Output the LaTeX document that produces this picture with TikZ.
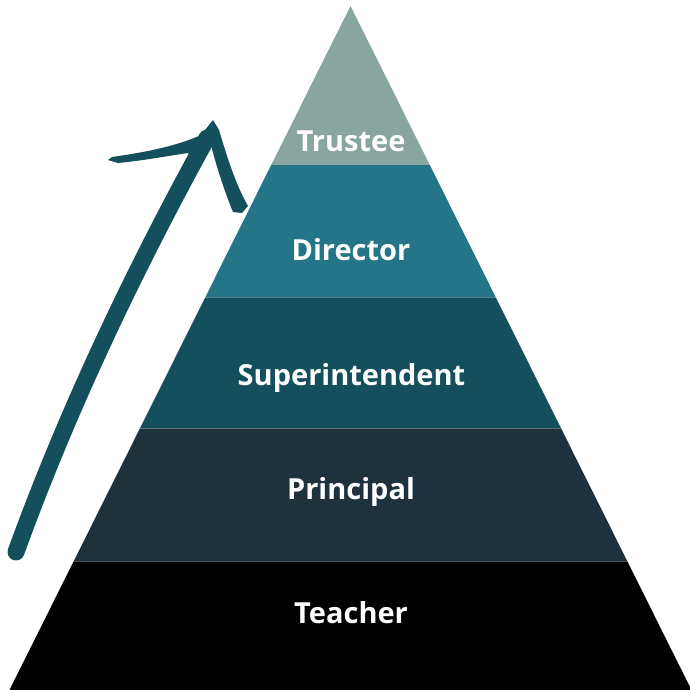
\documentclass[tikz,border=0pt]{standalone}
\usepackage{fontspec}
\setmainfont{Open Sans}
\definecolor{ctrustee}{HTML}{88A59F}
\definecolor{cdirector}{HTML}{237587}
\definecolor{csuper}{HTML}{134F5C}
\definecolor{cprincipal}{HTML}{1D323D}
\definecolor{cteacher}{HTML}{000000}
\definecolor{carrow}{HTML}{134F5C}
\begin{document}
\begin{tikzpicture}[x=1pt,y=-1pt,
  lbl/.style={text=white,font=\fontsize{29}{34}\selectfont\bfseries,anchor=base,inner sep=0pt},
  sep/.style={draw=white,draw opacity=0.3,line width=1pt},
  brush/.style={fill=carrow,draw=none}]
\useasboundingbox (0,0) rectangle (690,690);
% pyramid corner coordinates
\coordinate (apex) at (350.5,6);
\coordinate (l1) at (271.2,165); \coordinate (r1) at (429.8,165);
\coordinate (l2) at (205.4,297); \coordinate (r2) at (495.6,297);
\coordinate (l3) at (140.1,428); \coordinate (r3) at (560.9,428);
\coordinate (l4) at (73.8,561);  \coordinate (r4) at (627.2,561);
\coordinate (l5) at (9.5,690);   \coordinate (r5) at (691.5,690);
% layers
\fill[ctrustee]   (apex) -- (r1) -- (l1) -- cycle;
\fill[cdirector]  (l1) -- (r1) -- (r2) -- (l2) -- cycle;
\fill[csuper]     (l2) -- (r2) -- (r3) -- (l3) -- cycle;
\fill[cprincipal] (l3) -- (r3) -- (r4) -- (l4) -- cycle;
\fill[cteacher]   (l4) -- (r4) -- (r5) -- (l5) -- cycle;
\draw[sep] (l2) -- (r2);
\draw[sep] (l3) -- (r3);
\draw[sep] (l4) -- (r4);
% labels
\node[lbl] (trustee) at (351,151) {Trustee};
\node[lbl] (director) at (351,260) {Director};
\node[lbl] (superintendent) at (351.5,385) {Superintendent};
\node[lbl] (principal) at (351,499) {Principal};
\node[lbl] (teacher) at (351,623) {Teacher};
% hand-drawn arrow
\coordinate (tail) at (16,552);
\coordinate (neck) at (207,138);
\draw[carrow,line width=17pt,line cap=round] (tail) .. controls (66,414) and (132,274) .. (neck);
\fill[brush] (213,120) -- (219,130) .. controls (228,160) and (236,185) .. (248,206)
  -- (242,213) -- (233,212) .. controls (224,190) and (216,165) .. (211,145)
  -- (198,165) -- (188,153)
  .. controls (168,156) and (140,161) .. (118,163) -- (108,160)
  -- (112,157) .. controls (140,153) and (175,147) .. (201,135) -- cycle;
\end{tikzpicture}
\end{document}
